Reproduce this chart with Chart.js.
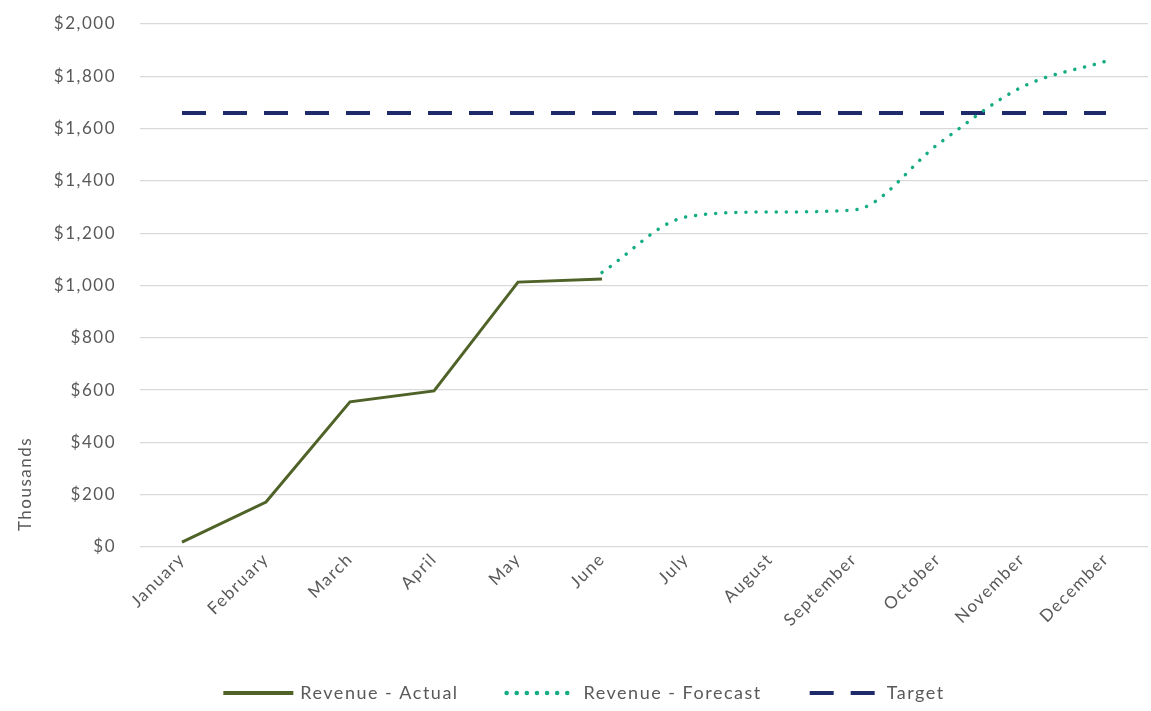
<!DOCTYPE html>
<html>
<head>
<meta charset="utf-8">
<script src="https://cdn.jsdelivr.net/npm/chart.js@4/dist/chart.umd.min.js"></script>
<style>
  html, body { margin: 0; padding: 0; background: #ffffff; }
  #wrap { width: 1151px; height: 711px; }
</style>
</head>
<body>
<div id="wrap"><canvas id="c" width="1151" height="711"></canvas></div>
<script>
// Monthly revenue, in thousands of dollars
const months = ['January', 'February', 'March', 'April', 'May', 'June',
                'July', 'August', 'September', 'October', 'November', 'December'];
const revenueActual   = [19, 172, 555, 597, 1013, 1025, null, null, null, null, null, null];
const revenueForecast = [null, null, null, null, null, 1050, 1262, 1281, 1289, 1540, 1759, 1858];
const target          = [1660, 1660, 1660, 1660, 1660, 1660, 1660, 1660, 1660, 1660, 1660, 1660];
const yTicks = [0, 200, 400, 600, 800, 1000, 1200, 1400, 1600, 1800, 2000];

const FONT = 'Lato, "Open Sans", sans-serif';
const GREY = '#595959';
const SPACING = '1.5px';

const ACTUAL_COLOR = '#4F6228';
const FORECAST_COLOR = '#17AD84';
const TARGET_COLOR = '#1F2A6B';

const FORECAST_DASH = [0.1, 10];
const TARGET_DASH = [24, 17];

// Wider letter spacing for all canvas text
const textSpacing = {
  id: 'textSpacing',
  beforeUpdate(chart) { chart.ctx.letterSpacing = SPACING; },
  beforeDraw(chart) { chart.ctx.letterSpacing = SPACING; }
};

// Display-units caption beside the lower part of the value axis
const unitsLabel = {
  id: 'unitsLabel',
  afterDraw(chart) {
    const ctx = chart.ctx;
    ctx.save();
    ctx.translate(26, 484);
    ctx.rotate(-Math.PI / 2);
    ctx.fillStyle = GREY;
    ctx.font = '17px ' + FONT;
    ctx.textAlign = 'center';
    ctx.textBaseline = 'middle';
    ctx.fillText('Thousands', 0, 0);
    ctx.restore();
  }
};

// Legend row under the chart, one line sample per series
const lineLegend = {
  id: 'lineLegend',
  afterDraw(chart) {
    const ctx = chart.ctx;
    const sample = 70, gapText = 7, gapItem = 48, y = 693, cx = 584;
    ctx.save();
    ctx.font = '18px ' + FONT;
    ctx.textBaseline = 'middle';
    ctx.textAlign = 'left';
    const items = chart.data.datasets.map(ds => ({
      text: ds.label,
      color: ds.borderColor,
      dash: ds.borderDash || [],
      width: ds.label === 'Target' ? 4 : (ds.borderWidth + 1),
      cap: ds.borderCapStyle || 'butt',
      tw: ctx.measureText(ds.label).width
    }));
    const total = items.reduce((s, it) => s + sample + gapText + it.tw, 0) + gapItem * (items.length - 1);
    let x = cx - total / 2;
    items.forEach(it => {
      ctx.beginPath();
      ctx.setLineDash(it.dash);
      ctx.lineCap = it.cap;
      ctx.lineWidth = it.width;
      ctx.strokeStyle = it.color;
      ctx.moveTo(x, y);
      ctx.lineTo(x + sample, y);
      ctx.stroke();
      ctx.setLineDash([]);
      ctx.fillStyle = GREY;
      ctx.fillText(it.text, x + sample + gapText, y);
      x += sample + gapText + it.tw + gapItem;
    });
    ctx.restore();
  }
};

new Chart(document.getElementById('c'), {
  type: 'line',
  data: {
    labels: months,
    datasets: [
      {
        label: 'Revenue - Actual',
        data: revenueActual,
        borderColor: ACTUAL_COLOR,
        borderWidth: 3,
        pointRadius: 0,
        tension: 0,
        order: 2
      },
      {
        label: 'Revenue - Forecast',
        data: revenueForecast,
        borderColor: FORECAST_COLOR,
        borderWidth: 3.5,
        borderDash: FORECAST_DASH,
        borderCapStyle: 'round',
        pointRadius: 0,
        cubicInterpolationMode: 'monotone',
        order: 1
      },
      {
        label: 'Target',
        data: target,
        borderColor: TARGET_COLOR,
        borderWidth: 4,
        borderDash: TARGET_DASH,
        pointRadius: 0,
        order: 3
      }
    ]
  },
  options: {
    responsive: false,
    animation: false,
    devicePixelRatio: 1,
    layout: { padding: { top: 24, right: 3, bottom: 74, left: 0 } },
    plugins: {
      tooltip: { enabled: false },
      legend: { display: false }
    },
    scales: {
      x: {
        offset: true,
        afterFit(axis) { axis.height = 90; },
        grid: { display: false, drawTicks: false },
        border: { display: false },
        ticks: {
          color: GREY,
          font: { family: FONT, size: 17 },
          minRotation: 45,
          maxRotation: 45,
          padding: 2,
          autoSkip: false
        }
      },
      y: {
        min: 0,
        max: 2000,
        afterBuildTicks(axis) { axis.ticks = yTicks.map(v => ({ value: v })); },
        afterFit(axis) {
          axis.width = 140;
          axis.paddingTop = 0;
          axis.paddingBottom = 0;
        },
        grid: { color: '#D9D9D9', lineWidth: 1.3, drawTicks: false },
        border: { display: false },
        ticks: {
          color: GREY,
          font: { family: FONT, size: 17 },
          padding: 24,
          callback: v => '$' + v.toLocaleString('en-US')
        }
      }
    }
  },
  plugins: [textSpacing, unitsLabel, lineLegend]
});
</script>
</body>
</html>
